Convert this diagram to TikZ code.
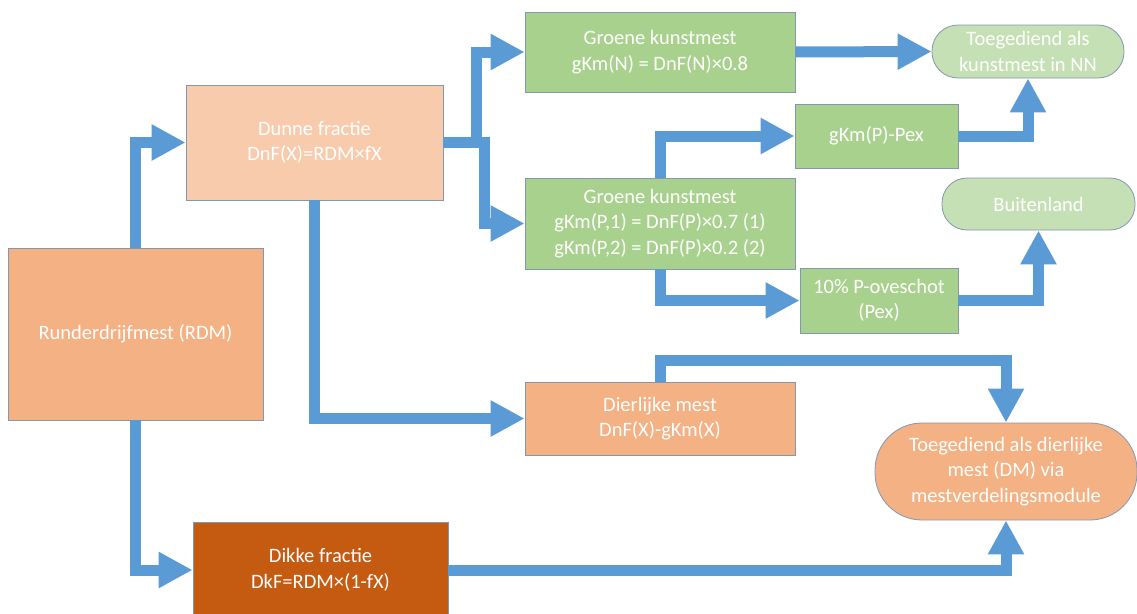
\documentclass[tikz,border=0pt]{standalone}
\usepackage{fontspec}
\setmainfont{Carlito}
\usetikzlibrary{arrows.meta}
\definecolor{flowblue}{HTML}{5B9BD5}
\definecolor{edgegray}{HTML}{8497B0}
\definecolor{peachlight}{HTML}{F8CBAD}
\definecolor{peach}{HTML}{F4B183}
\definecolor{darkorange}{HTML}{C55A11}
\definecolor{greenbox}{HTML}{A9D18E}
\definecolor{greenpill}{HTML}{C5E0B4}
\begin{document}
\begin{tikzpicture}[x=1pt,y=-1pt,
  box/.style={draw=edgegray, line width=0.8pt, text=white, align=center, inner sep=0pt,
    font=\fontsize{20.5}{25.5}\selectfont},
  flow/.style={draw=flowblue, line width=11pt, line join=miter,
    -{Triangle[length=34pt,width=34pt]}},
]
\useasboundingbox (0,0) rectangle (1137,613);

% nodes
\node[box, fill=peach, minimum width=255pt, minimum height=172pt] (rdm) at (135.5,334) {Runderdrijfmest (RDM)};
\node[box, fill=peachlight, minimum width=257pt, minimum height=115pt] (dunne) at (314.5,142.5) {Dunne fractie\\DnF(X)=RDM×fX};
\node[box, fill=greenbox, minimum width=270pt, minimum height=80pt] (gkmN) at (660,52) {Groene kunstmest\\gKm(N) = DnF(N)×0.8};
\node[box, fill=greenpill, rounded corners=26pt, minimum width=192pt, minimum height=53pt] (toegNN) at (1028,51.5) {Toegediend als\\kunstmest in NN};
\node[box, fill=greenbox, minimum width=163pt, minimum height=64pt] (gkmPex) at (876.5,136) {gKm(P)-Pex};
\node[box, fill=greenbox, minimum width=270pt, minimum height=91pt] (gkmP) at (660,223.5) {Groene kunstmest\\gKm(P,1) = DnF(P)×0.7 (1)\\gKm(P,2) = DnF(P)×0.2 (2)};
\node[box, fill=greenpill, rounded corners=25pt, minimum width=193pt, minimum height=52pt] (buiten) at (1038.5,204) {Buitenland};
\node[box, fill=greenbox, minimum width=158pt, minimum height=65pt] (p10) at (879,300.5) {10\% P-oveschot\\(Pex)};
\node[box, fill=peach, minimum width=270pt, minimum height=73pt] (dier) at (660,418.5) {Dierlijke mest\\DnF(X)-gKm(X)};
\node[box, fill=peach, rounded corners=47pt, minimum width=262pt, minimum height=97pt] (toegDM) at (1006,471.5) {Toegediend als dierlijke\\mest (DM) via\\mestverdelingsmodule};
\node[box, fill=darkorange, minimum width=255pt, minimum height=96pt] (dikke) at (320.5,570) {Dikke fractie\\DkF=RDM×(1-fX)};

% connectors
\draw[flow] (rdm.north) |- (dunne.west);
\draw[flow] (dunne.east) -- ++(33,0) |- (gkmN.west);
\draw[flow] (dunne.east) -- ++(41,0) |- (gkmP.west);
\draw[flow] (gkmN.east) -- (toegNN.west);
\draw[flow] (gkmP.north) |- (gkmPex.west);
\draw[flow] (gkmP.south) |- (p10.west);
\draw[flow] (gkmPex.east) -| (toegNN.south);
\draw[flow] (p10.east) -| (buiten.south);
\draw[flow] (dunne.south) |- (dier.west);
\draw[flow] (dier.north) -- ++(0,-21) -| (toegDM.north);
\draw[flow] (rdm.south) |- (dikke.west);
\draw[flow] (dikke.east) -| (toegDM.south);
\end{tikzpicture}
\end{document}
